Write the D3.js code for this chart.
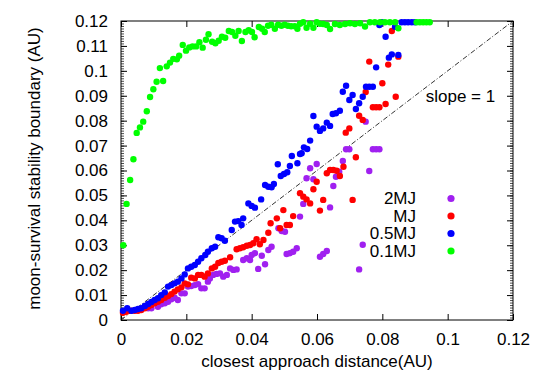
<!DOCTYPE html>
<html><head><meta charset="utf-8">
<script src="https://cdn.jsdelivr.net/npm/d3@7"></script>
<style>body{margin:0;background:#fff}svg{display:block}text{font-family:"Liberation Sans",Arial,sans-serif}</style>
</head><body><svg id="c" width="540" height="378"></svg>
<script>
const xTicks=[0,0.02,0.04,0.06,0.08,0.1,0.12];
const xTickLabels=["0","0.02","0.04","0.06","0.08","0.1","0.12"];
const yTicks=[0,0.01,0.02,0.03,0.04,0.05,0.06,0.07,0.08,0.09,0.1,0.11,0.12];
const yTickLabels=["0","0.01","0.02","0.03","0.04","0.05","0.06","0.07","0.08","0.09","0.1","0.11","0.12"];
const seriesNames=["2MJ","MJ","0.5MJ","0.1MJ"];
const seriesColors=["#a020f0","#ff0000","#0000ff","#00ff00"];

const green=[[0.0007,0.0300],[0.0017,0.0466],[0.0028,0.0562],[0.0038,0.0645],[0.0048,0.0751],[0.0058,0.0773],[0.0068,0.0796],[0.0079,0.0838],[0.0089,0.0895],[0.0099,0.0926],[0.0109,0.0956],[0.0119,0.1011],[0.0129,0.0959],[0.0140,0.1018],[0.0150,0.1033],[0.0160,0.1048],[0.0171,0.1046],[0.0178,0.1061],[0.0189,0.1104],[0.0199,0.1081],[0.0209,0.1094],[0.0219,0.1098],[0.0230,0.1098],[0.0240,0.1115],[0.0250,0.1093],[0.0260,0.1125],[0.0268,0.1147],[0.0279,0.1117],[0.0289,0.1111],[0.0299,0.1121],[0.0309,0.1137],[0.0319,0.1133],[0.0330,0.1160],[0.0340,0.1156],[0.0350,0.1141],[0.0360,0.1160],[0.0370,0.1120],[0.0381,0.1156],[0.0391,0.1163],[0.0401,0.1156],[0.0409,0.1135],[0.0422,0.1176],[0.0432,0.1169],[0.0440,0.1156],[0.0450,0.1181],[0.0460,0.1185],[0.0471,0.1169],[0.0481,0.1185],[0.0491,0.1181],[0.0501,0.1185],[0.0511,0.1181],[0.0521,0.1179],[0.0532,0.1179],[0.0540,0.1169],[0.0548,0.1189],[0.0558,0.1195],[0.0568,0.1173],[0.0579,0.1189],[0.0589,0.1173],[0.0599,0.1195],[0.0609,0.1189],[0.0619,0.1188],[0.0630,0.1184],[0.0640,0.1168],[0.0655,0.1188],[0.0670,0.1184],[0.0686,0.1188],[0.0701,0.1191],[0.0716,0.1188],[0.0732,0.1191],[0.0747,0.1178],[0.0762,0.1195],[0.0777,0.1195],[0.0793,0.1195],[0.0808,0.1195],[0.0823,0.1195],[0.0839,0.1195],[0.0849,0.1171],[0.0905,0.1195],[0.0915,0.1195],[0.0925,0.1195],[0.0935,0.1195],[0.0945,0.1195]];

const blue=[[0.0006,0.0037],[0.0019,0.0047],[0.0032,0.0037],[0.0042,0.0040],[0.0052,0.0044],[0.0062,0.0047],[0.0073,0.0056],[0.0083,0.0064],[0.0093,0.0072],[0.0103,0.0080],[0.0113,0.0087],[0.0123,0.0100],[0.0134,0.0111],[0.0144,0.0134],[0.0154,0.0140],[0.0164,0.0147],[0.0174,0.0154],[0.0185,0.0167],[0.0195,0.0183],[0.0205,0.0207],[0.0215,0.0214],[0.0226,0.0221],[0.0236,0.0234],[0.0246,0.0248],[0.0258,0.0261],[0.0266,0.0274],[0.0278,0.0288],[0.0288,0.0294],[0.0298,0.0332],[0.0308,0.0328],[0.0318,0.0318],[0.0339,0.0361],[0.0349,0.0395],[0.0359,0.0397],[0.0369,0.0381],[0.0374,0.0408],[0.0390,0.0468],[0.0400,0.0458],[0.0410,0.0451],[0.0429,0.0484],[0.0441,0.0542],[0.0451,0.0535],[0.0461,0.0533],[0.0468,0.0546],[0.0480,0.0625],[0.0489,0.0578],[0.0499,0.0586],[0.0509,0.0593],[0.0517,0.0618],[0.0523,0.0658],[0.0540,0.0629],[0.0548,0.0666],[0.0553,0.0669],[0.0560,0.0693],[0.0570,0.0686],[0.0579,0.0720],[0.0589,0.0819],[0.0599,0.0776],[0.0609,0.0759],[0.0619,0.0769],[0.0630,0.0792],[0.0640,0.0779],[0.0648,0.0827],[0.0658,0.0830],[0.0670,0.0840],[0.0679,0.0916],[0.0689,0.0940],[0.0699,0.0883],[0.0709,0.0903],[0.0719,0.0847],[0.0729,0.0870],[0.0740,0.0896],[0.0750,0.0936],[0.0760,0.0936],[0.0771,0.0936],[0.0781,0.1014],[0.0791,0.1184],[0.0798,0.1195],[0.0810,0.1137],[0.0820,0.1053],[0.0829,0.1066],[0.0839,0.1177],[0.0849,0.1064],[0.0859,0.1195],[0.0869,0.1195],[0.0879,0.1195],[0.0890,0.1195],[0.0900,0.1195]];

const red=[[0.0006,0.0029],[0.0016,0.0033],[0.0031,0.0037],[0.0042,0.0037],[0.0052,0.0037],[0.0062,0.0040],[0.0073,0.0047],[0.0083,0.0053],[0.0093,0.0060],[0.0103,0.0067],[0.0113,0.0073],[0.0123,0.0080],[0.0134,0.0089],[0.0144,0.0096],[0.0154,0.0104],[0.0164,0.0114],[0.0174,0.0123],[0.0185,0.0131],[0.0195,0.0147],[0.0205,0.0143],[0.0215,0.0170],[0.0226,0.0167],[0.0236,0.0181],[0.0246,0.0181],[0.0256,0.0174],[0.0266,0.0187],[0.0278,0.0207],[0.0288,0.0214],[0.0298,0.0229],[0.0308,0.0234],[0.0318,0.0238],[0.0334,0.0252],[0.0354,0.0284],[0.0364,0.0288],[0.0374,0.0292],[0.0385,0.0298],[0.0395,0.0301],[0.0405,0.0308],[0.0415,0.0324],[0.0425,0.0304],[0.0436,0.0321],[0.0451,0.0350],[0.0458,0.0388],[0.0477,0.0408],[0.0487,0.0368],[0.0497,0.0441],[0.0507,0.0381],[0.0517,0.0381],[0.0527,0.0417],[0.0548,0.0509],[0.0558,0.0495],[0.0568,0.0484],[0.0579,0.0468],[0.0589,0.0525],[0.0599,0.0555],[0.0609,0.0439],[0.0619,0.0482],[0.0630,0.0589],[0.0640,0.0602],[0.0650,0.0602],[0.0660,0.0599],[0.0670,0.0578],[0.0681,0.0615],[0.0688,0.0752],[0.0699,0.0769],[0.0709,0.0482],[0.0719,0.0653],[0.0729,0.0820],[0.0740,0.0803],[0.0749,0.0915],[0.0760,0.1037],[0.0771,0.0854],[0.0781,0.0854],[0.0791,0.0854],[0.0800,0.0950],[0.0810,0.0867],[0.0818,0.1025],[0.0829,0.1160],[0.0841,0.0896],[0.0849,0.1057]];

const purple=[[0.0083,0.0047],[0.0093,0.0047],[0.0113,0.0053],[0.0123,0.0063],[0.0134,0.0067],[0.0144,0.0073],[0.0154,0.0083],[0.0164,0.0089],[0.0174,0.0080],[0.0185,0.0107],[0.0195,0.0107],[0.0205,0.0134],[0.0215,0.0136],[0.0226,0.0140],[0.0236,0.0144],[0.0246,0.0127],[0.0256,0.0127],[0.0266,0.0154],[0.0272,0.0167],[0.0282,0.0181],[0.0292,0.0185],[0.0303,0.0187],[0.0313,0.0174],[0.0324,0.0181],[0.0334,0.0207],[0.0344,0.0201],[0.0354,0.0203],[0.0374,0.0241],[0.0385,0.0248],[0.0395,0.0241],[0.0400,0.0261],[0.0410,0.0268],[0.0420,0.0205],[0.0431,0.0258],[0.0441,0.0224],[0.0451,0.0281],[0.0461,0.0294],[0.0482,0.0368],[0.0492,0.0357],[0.0502,0.0354],[0.0507,0.0265],[0.0517,0.0268],[0.0527,0.0274],[0.0538,0.0288],[0.0548,0.0415],[0.0558,0.0466],[0.0568,0.0569],[0.0579,0.0609],[0.0589,0.0565],[0.0599,0.0626],[0.0609,0.0254],[0.0619,0.0265],[0.0630,0.0277],[0.0640,0.0452],[0.0650,0.0538],[0.0658,0.0575],[0.0668,0.0595],[0.0679,0.0638],[0.0689,0.0685],[0.0699,0.0685],[0.0729,0.0203],[0.0740,0.0302],[0.0749,0.0796],[0.0760,0.0598],[0.0771,0.0685],[0.0781,0.0685],[0.0791,0.0685]];

const seriesData=[purple,red,blue,green];

const FS=17;
const svg=d3.select("#c");
const L=121,R=513,T=21,B=320;
const x=d3.scaleLinear().domain([0,0.12]).range([L,R]);
const y=d3.scaleLinear().domain([0,0.12]).range([B,T]);

// minor y ticks
const yMinor=d3.range(0,121).map(i=>i/1000);
svg.append("g").attr("transform",`translate(${L},0)`).call(d3.axisRight(y).tickValues(yMinor).tickSize(3).tickFormat(""))
  .call(g=>g.select(".domain").remove()).selectAll("line").attr("stroke","#000").attr("stroke-width",0.7);
svg.append("g").attr("transform",`translate(${R},0)`).call(d3.axisLeft(y).tickValues(yMinor).tickSize(3).tickFormat(""))
  .call(g=>g.select(".domain").remove()).selectAll("line").attr("stroke","#000").attr("stroke-width",0.7);

// major axes
const fmtX=d=>xTickLabels[xTicks.indexOf(d)];
const fmtY=d=>yTickLabels[yTicks.indexOf(d)];
function style(g){g.select(".domain").remove();g.selectAll("line").attr("stroke","#000");g.selectAll("text").attr("font-size",FS).attr("fill","#000").attr("font-family","Liberation Sans, Arial, sans-serif");}
svg.append("g").attr("transform",`translate(0,${B})`).call(d3.axisBottom(x).tickValues(xTicks).tickSizeInner(-6).tickSizeOuter(0).tickPadding(13).tickFormat(fmtX)).call(style);
svg.append("g").attr("transform",`translate(0,${T})`).call(d3.axisTop(x).tickValues(xTicks).tickSizeInner(-6).tickSizeOuter(0).tickFormat("")).call(style);
svg.append("g").attr("transform",`translate(${L},0)`).call(d3.axisLeft(y).tickValues(yTicks).tickSizeInner(-6).tickSizeOuter(0).tickPadding(13).tickFormat(fmtY)).call(style);
svg.append("g").attr("transform",`translate(${R},0)`).call(d3.axisRight(y).tickValues(yTicks).tickSizeInner(-6).tickSizeOuter(0).tickFormat("")).call(style);

// frame
svg.append("rect").attr("x",L).attr("y",T).attr("width",R-L).attr("height",B-T).attr("fill","none").attr("stroke","#000").attr("stroke-width",1);

// slope=1 line
svg.append("line").attr("x1",x(0)).attr("y1",y(0)).attr("x2",x(0.12)).attr("y2",y(0.12))
  .attr("stroke","#000").attr("stroke-width",0.8).attr("stroke-dasharray","5,2,1,2");
svg.append("text").attr("x",460.5).attr("y",102).attr("font-size",FS).attr("text-anchor","middle").text("slope = 1");

// points
seriesData.forEach((data,i)=>{
  svg.append("g").selectAll("circle").data(data).join("circle")
    .attr("cx",d=>x(d[0])).attr("cy",d=>y(d[1])).attr("r",3.2).attr("fill",seriesColors[i]);
});

// legend
const lg=svg.append("g");
seriesNames.forEach((n,i)=>{
  const yy=198.5+i*17.5;
  lg.append("text").attr("x",416).attr("y",yy).attr("dy","0.35em").attr("text-anchor","end").attr("font-size",FS).text(n);
  lg.append("circle").attr("cx",451).attr("cy",yy).attr("r",3.6).attr("fill",seriesColors[i]);
});

// axis labels
svg.append("text").attr("x",(L+R)/2).attr("y",367).attr("text-anchor","middle").attr("font-size",FS).text("closest approach distance(AU)");
svg.append("text").attr("transform",`translate(40,${(T+B)/2-2}) rotate(-90)`).attr("text-anchor","middle").attr("font-size",FS).text("moon-survival stability boundary (AU)");
</script></body></html>
